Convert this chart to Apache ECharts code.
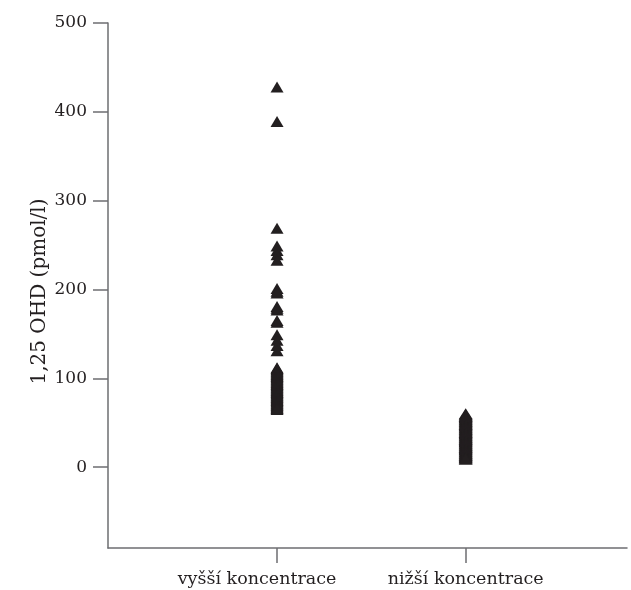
<!DOCTYPE html>
<html>
<head>
<meta charset="utf-8">
<script src="https://cdn.jsdelivr.net/npm/echarts@6/dist/echarts.min.js"></script>
<style>html,body{margin:0;padding:0;background:#fff}#c{width:631px;height:590px}</style>
</head>
<body>
<div id="c"></div>
<script>
var categories = ['vyšší koncentrace', 'nižší koncentrace'];
var yTicks = [0, 100, 200, 300, 400, 500];
var yAxisName = '1,25 OHD (pmol/l)';
var higherValues = [428, 389, 269, 249, 244, 239, 233, 201, 198, 196, 181, 179, 177, 165, 163,
  149, 143, 137, 131, 112, 111, 110, 109, 108, 107, 106, 105, 104, 103, 102, 101, 100, 99, 98,
  97, 96, 95, 94, 93, 92, 91, 90, 89, 88, 87, 86, 85, 84, 83, 82, 81, 80, 79, 78, 77, 76, 75,
  74, 73, 72, 71, 70, 69, 68, 67, 66, 65];
var lowerValues = [60, 59, 58, 57, 56, 55, 54, 53, 52, 51, 50, 49, 48, 47, 46, 45, 44, 43, 42,
  41, 40, 39, 38, 37, 36, 35, 34, 33, 32, 31, 30, 29, 28, 27, 26, 25, 24, 23, 22, 21, 20, 19,
  18, 17, 16, 15, 14, 13, 12, 11, 10, 9];

var font = 'DejaVu Serif';
var ink = '#231f20';
var axisGrey = '#6d6e71';

var chart = echarts.init(document.getElementById('c'), null, {renderer: 'canvas'});
chart.setOption({
  animation: false,
  backgroundColor: '#fff',
  grid: {left: 108, right: 4, top: 23, bottom: 42, containLabel: false},
  xAxis: {
    type: 'value', min: 0.104, max: 2.855,
    splitLine: {show: false},
    axisLine: {show: true, onZero: false, lineStyle: {color: axisGrey, width: 1.5}},
    axisTick: {show: true, length: 15, customValues: [1, 2], lineStyle: {color: axisGrey, width: 1.5}},
    axisLabel: {customValues: [1, 2], margin: 22, color: ink, fontFamily: font, fontSize: 17.5,
      formatter: function (v) {
        var i = Math.round(v) - 1;
        return i === 0 ? '{a|' + categories[0] + '}' : '{b|' + (categories[i] || '') + '}';
      },
      rich: {
        a: {color: ink, fontFamily: font, fontSize: 17.5, padding: [0, 40, 0, 0]},
        b: {color: ink, fontFamily: font, fontSize: 17.5}
      }},
  },
  yAxis: {
    type: 'value', min: -91, max: 500,
    name: yAxisName, nameLocation: 'middle', nameRotate: 90, nameGap: 58,
    nameMoveOverlap: false,
    nameTextStyle: {color: ink, fontFamily: font, fontSize: 20, padding: [0, 12, 0, 0]},
    splitLine: {show: false},
    axisLine: {show: true, onZero: false, lineStyle: {color: axisGrey, width: 1.5}},
    axisTick: {show: true, length: 15, customValues: yTicks, lineStyle: {color: axisGrey, width: 1.5}},
    axisLabel: {customValues: yTicks, margin: 21, color: ink, fontFamily: font, fontSize: 17}
  },
  series: [
    {type: 'scatter', symbol: 'triangle', symbolSize: [13, 11],
      itemStyle: {color: ink, opacity: 1}, data: higherValues.map(function (v) { return [1, v]; })},
    {type: 'scatter', symbol: 'triangle', symbolSize: [14, 11],
      itemStyle: {color: ink, opacity: 1}, data: lowerValues.map(function (v) { return [2, v]; })}
  ]
});
</script>
</body>
</html>
